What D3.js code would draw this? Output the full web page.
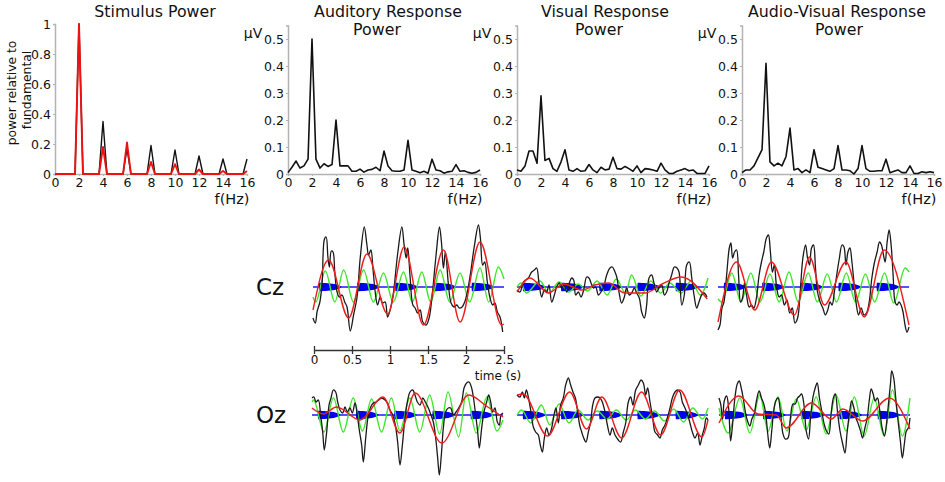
<!DOCTYPE html>
<html><head><meta charset="utf-8">
<script src="https://cdn.jsdelivr.net/npm/d3@7"></script>
<style>
html,body{margin:0;padding:0;background:#fff;}
svg{display:block;font-family:"DejaVu Sans",Verdana,sans-serif;}
</style></head>
<body>
<svg id="c" width="945" height="482"></svg>
<script>
// ---------- DATA ----------
const freqs = [0,0.33,0.67,1,1.33,1.67,2,2.33,2.67,3,3.33,3.67,4,4.33,4.67,5,5.33,5.67,6,6.33,6.67,7,7.33,7.67,8,8.33,8.67,9,9.33,9.67,10,10.33,10.67,11,11.33,11.67,12,12.33,12.67,13,13.33,13.67,14,14.33,14.67,15,15.33,15.67,16];
const stimBlack = [0,0,0,0,0,0,1,0,0,0,0,0,0.35,0,0,0,0,0,0.17,0,0,0,0,0,0.19,0,0,0,0,0,0.16,0,0,0,0,0,0.12,0,0,0,0,0,0.10,0,0,0,0,0,0.10];
const stimRed   = [0,0,0,0,0,0,1,0,0,0,0,0,0.18,0,0,0,0,0,0.21,0,0,0,0,0,0.08,0,0,0,0,0,0.065,0,0,0,0,0,0.03,0,0,0,0,0,0.02,0,0,0,0,0,0.02];
const audPower = [0.005,0.025,0.048,0.022,0.03,0.055,0.5,0.055,0.022,0.038,0.028,0.035,0.2,0.03,0.03,0.03,0.01,0.01,0.018,0.007,0.015,0.017,0.025,0.012,0.085,0.03,0.012,0.01,0.01,0.015,0.125,0.015,0.01,0.005,0.01,0.003,0.055,0.015,0.012,0.003,0.008,0.01,0.035,0.01,0.012,0.006,0.003,0.006,0.015];
const visPower = [0.015,0.01,0.03,0.085,0.085,0.04,0.29,0.05,0.058,0.02,0.01,0.045,0.09,0.015,0.01,0.02,0.01,0.012,0.035,0.015,0.005,0.025,0.015,0.018,0.062,0.02,0.018,0.028,0.02,0.01,0.03,0.005,0.02,0.018,0.015,0.01,0.04,0.015,0.002,0.002,0.01,0.015,0.02,0.012,0.015,0.002,0.002,0.002,0.03];
const avPower  = [0.005,0.015,0.015,0.03,0.06,0.09,0.41,0.045,0.03,0.04,0.03,0.065,0.17,0.015,0.02,0.005,0.015,0.005,0.09,0.025,0.02,0.015,0.01,0.02,0.105,0.015,0.015,0.012,0.0,0.02,0.105,0.02,0.01,0.01,0.012,0.012,0.055,0.005,0.01,0.015,0.005,0.005,0.03,0.002,0.002,0.008,0.005,0.008,0.005];
const freqTicks = [0,2,4,6,8,10,12,14,16];
const stimTicks = [0,0.2,0.4,0.6,0.8,1];
const respTicks = [0,0.1,0.2,0.3,0.4,0.5];
const timeTicks = [0,0.5,1,1.5,2,2.5];

// time series: [time (s), amplitude]
const czAudBlack = [[0,-31],[0.03,-36],[0.055,-24],[0.09,-15],[0.12,5],[0.15,48],[0.172,50],[0.195,30],[0.215,20],[0.24,36],[0.262,35],[0.285,15],[0.315,-5],[0.345,-10],[0.38,-8],[0.415,-15],[0.445,-20],[0.488,-44],[0.531,-28],[0.575,-11],[0.618,29],[0.671,60],[0.706,42],[0.727,32],[0.758,37],[0.784,19],[0.814,-5],[0.845,-18],[0.88,-10],[0.91,-16],[0.945,-15],[0.976,-30],[1.01,-23],[1.054,-5],[1.106,32],[1.163,60],[1.193,42],[1.22,29],[1.241,39],[1.272,9],[1.307,-18],[1.337,-21],[1.368,-26],[1.402,-23],[1.437,-35],[1.481,-38],[1.52,-31],[1.564,-5],[1.611,32],[1.655,60],[1.681,45],[1.707,19],[1.733,35],[1.773,2],[1.807,-16],[1.847,-20],[1.882,-18],[1.916,-21],[1.951,-20],[1.986,-15],[2.02,-5],[2.064,15],[2.108,39],[2.165,62],[2.191,49],[2.221,22],[2.247,25],[2.282,5],[2.317,-11],[2.352,-18],[2.382,-16],[2.413,-25],[2.448,-30],[2.483,-45]];
const czAudRed = [[0,-23],[0.205,27],[0.466,-31],[0.706,33],[0.976,-27],[1.193,40],[1.446,-38],[1.707,37],[1.925,-35],[2.186,45],[2.47,-38],[2.5,-37]];
const czAudGreen = [[0,-10],[0.036,-15],[0.161,16],[0.286,-15],[0.401,17],[0.53,-15],[0.662,17],[0.79,-15],[0.923,14],[1.05,-15],[1.185,15],[1.30,-15],[1.424,15],[1.54,-15],[1.664,17],[1.79,-15],[1.925,14],[2.05,-15],[2.186,19],[2.30,-15],[2.426,20],[2.5,8]];

const czVisBlack = [[0,-3],[0.04,-5],[0.083,5],[0.148,9],[0.192,15],[0.227,17],[0.257,19],[0.288,4],[0.323,-10],[0.358,-3],[0.388,-5],[0.419,2],[0.454,-15],[0.489,-8],[0.519,0],[0.554,4],[0.585,-1],[0.615,2],[0.65,-5],[0.685,4],[0.716,9],[0.742,7],[0.768,-8],[0.803,-5],[0.838,-10],[0.873,-3],[0.912,10],[0.942,9],[0.969,4],[0.999,-1],[1.03,0],[1.065,-8],[1.1,-5],[1.134,0],[1.174,12],[1.217,19],[1.248,20],[1.283,15],[1.309,9],[1.335,-5],[1.37,-16],[1.405,-10],[1.435,-1],[1.47,-8],[1.501,-6],[1.536,-1],[1.566,-6],[1.601,-11],[1.632,-25],[1.667,-31],[1.697,-18],[1.728,9],[1.763,12],[1.793,4],[1.828,-5],[1.859,-1],[1.894,2],[1.929,-8],[1.959,-5],[1.99,4],[2.024,12],[2.059,20],[2.094,19],[2.121,15],[2.156,-18],[2.19,-8],[2.221,22],[2.256,25],[2.286,10],[2.317,-8],[2.352,-21],[2.382,-15],[2.417,-8],[2.448,-6],[2.487,-10]];
const czVisRed = [[0,-5],[0.17,9],[0.41,-6],[0.61,3],[0.85,-3],[1.02,2],[1.2,4],[1.41,-6],[1.68,-6],[1.9,3],[2.15,10],[2.49,-12]];
const czVisGreen = [[0,0],[0.05,4],[0.12,-6],[0.3,6],[0.42,-6],[0.55,5],[0.68,-5],[0.8,3],[0.92,-4],[1.05,6],[1.18,-8],[1.3,8],[1.42,-6],[1.5,12],[1.62,-9],[1.75,6],[1.88,-6],[2.0,4],[2.15,-6],[2.28,6],[2.4,-8],[2.5,9]];

const czAvBlack = [[0,-43],[0.026,-38],[0.052,-21],[0.078,-15],[0.113,12],[0.148,39],[0.169,44],[0.191,29],[0.217,35],[0.243,37],[0.269,12],[0.295,-15],[0.321,-11],[0.347,4],[0.373,-8],[0.408,-20],[0.438,-18],[0.469,-21],[0.503,-11],[0.538,12],[0.569,25],[0.599,35],[0.634,49],[0.66,52],[0.686,35],[0.712,15],[0.738,22],[0.764,2],[0.799,-10],[0.833,-8],[0.868,-18],[0.903,-13],[0.938,-26],[0.972,-21],[1.007,-36],[1.042,-31],[1.076,-5],[1.111,29],[1.146,42],[1.172,29],[1.198,22],[1.224,39],[1.25,42],[1.276,19],[1.302,-5],[1.337,-15],[1.372,-21],[1.406,-28],[1.437,-23],[1.467,-15],[1.493,-18],[1.523,-5],[1.554,12],[1.589,29],[1.623,42],[1.649,40],[1.675,22],[1.701,35],[1.727,39],[1.753,25],[1.779,5],[1.806,-15],[1.84,-28],[1.875,-21],[1.91,-28],[1.944,-26],[1.979,-15],[2.014,9],[2.049,25],[2.083,35],[2.114,45],[2.14,42],[2.166,32],[2.188,25],[2.214,45],[2.24,57],[2.266,42],[2.292,12],[2.318,-15],[2.344,-18],[2.37,-15],[2.396,-18],[2.422,-25],[2.448,-38],[2.474,-45],[2.5,-40]];
const czAvRed = [[0,-35],[0.243,25],[0.482,-23],[0.699,25],[1.0,-28],[1.198,30],[1.393,-18],[1.675,25],[1.914,-30],[2.174,37],[2.5,-38]];
const czAvGreen = [[0,-12],[0.05,-15],[0.18,14],[0.30,-15],[0.43,14],[0.55,-15],[0.68,13],[0.80,-15],[0.93,15],[1.05,-15],[1.18,14],[1.30,-15],[1.43,13],[1.55,-15],[1.68,14],[1.80,-15],[1.93,13],[2.05,-15],[2.18,14],[2.30,-16],[2.45,19],[2.5,15]];

const ozAudBlack = [[0,17],[0.026,18],[0.052,13],[0.083,15],[0.113,0],[0.14,-17],[0.161,-35],[0.192,-17],[0.223,10],[0.249,17],[0.279,25],[0.31,23],[0.336,13],[0.366,5],[0.401,2],[0.432,8],[0.462,3],[0.497,7],[0.528,2],[0.563,12],[0.593,0],[0.619,-15],[0.65,-30],[0.672,-47],[0.703,-23],[0.737,0],[0.768,8],[0.803,12],[0.838,13],[0.873,15],[0.912,17],[0.956,15],[0.986,12],[1.021,5],[1.056,0],[1.091,-10],[1.121,-27],[1.152,-50],[1.183,-30],[1.217,-3],[1.248,13],[1.283,23],[1.318,25],[1.348,20],[1.379,13],[1.414,10],[1.449,17],[1.483,13],[1.523,7],[1.557,0],[1.588,-7],[1.619,-23],[1.645,-43],[1.667,-60],[1.693,-40],[1.719,-13],[1.749,3],[1.784,7],[1.815,7],[1.85,0],[1.885,3],[1.92,7],[1.959,13],[1.99,27],[2.024,32],[2.055,33],[2.086,28],[2.112,18],[2.142,0],[2.169,-17],[2.19,-33],[2.221,-13],[2.251,3],[2.286,13],[2.312,20],[2.339,13],[2.365,3],[2.395,7],[2.426,-7],[2.452,-10],[2.474,0],[2.5,2]];
const ozAudRed = [[0,7],[0.15,1],[0.32,8],[0.63,-5],[0.93,18],[1.15,-18],[1.35,22],[1.7,-28],[2.05,20],[2.3,8],[2.5,-2]];
const ozAudGreen = [[0,13],[0.02,15],[0.157,-17],[0.28,17],[0.41,-17],[0.54,17],[0.66,-16],[0.78,16],[0.91,-17],[1.04,17],[1.15,-16],[1.28,17],[1.41,-17],[1.54,20],[1.67,-19],[1.78,23],[1.92,-22],[2.02,22],[2.15,-18],[2.29,18],[2.42,-16],[2.5,-5]];

const ozVisBlack = [[0,20],[0.039,18],[0.07,23],[0.096,17],[0.122,25],[0.148,18],[0.183,3],[0.214,-12],[0.244,-17],[0.279,-20],[0.305,-30],[0.332,-37],[0.358,-23],[0.388,-13],[0.419,-20],[0.454,-13],[0.484,0],[0.51,7],[0.541,-8],[0.571,10],[0.606,17],[0.637,30],[0.672,37],[0.702,30],[0.733,23],[0.764,17],[0.794,3],[0.82,-10],[0.847,-17],[0.873,-23],[0.903,-27],[0.934,-17],[0.964,-7],[0.991,10],[1.021,17],[1.056,18],[1.087,17],[1.117,13],[1.152,3],[1.183,-10],[1.217,-20],[1.248,-13],[1.283,-20],[1.326,-25],[1.357,-27],[1.392,-17],[1.423,-8],[1.457,13],[1.488,18],[1.518,10],[1.553,25],[1.588,30],[1.623,35],[1.654,32],[1.684,20],[1.71,27],[1.741,13],[1.776,-3],[1.806,-17],[1.841,-20],[1.872,-23],[1.902,-15],[1.937,-10],[1.968,-3],[2.003,7],[2.033,17],[2.068,23],[2.103,25],[2.134,23],[2.164,13],[2.199,7],[2.234,0],[2.264,-8],[2.295,-17],[2.33,-23],[2.365,-18],[2.395,-30],[2.426,-20],[2.452,-13],[2.478,-3],[2.5,-5]];
const ozVisRed = [[0,20],[0.08,21],[0.4,-21],[0.69,23],[0.91,-14],[1.11,18],[1.37,-23],[1.63,23],[1.88,-20],[2.13,25],[2.42,-22],[2.5,-5]];
const ozVisGreen = [[0,0],[0.06,5],[0.18,-8],[0.32,10],[0.43,-10],[0.55,11],[0.68,-8],[0.8,5],[0.93,-5],[1.05,4],[1.18,-4],[1.3,5],[1.43,-5],[1.55,5],[1.68,-4],[1.8,4],[1.93,-6],[2.05,6],[2.18,-7],[2.3,7],[2.43,-4],[2.5,7]];

const ozAvBlack = [[0,17],[0.022,11],[0.048,-4],[0.069,14],[0.1,19],[0.126,7],[0.152,-26],[0.178,-9],[0.208,17],[0.239,31],[0.265,34],[0.291,27],[0.317,17],[0.343,4],[0.373,-6],[0.404,-11],[0.43,-4],[0.460,1],[0.49,14],[0.525,24],[0.556,17],[0.586,11],[0.612,1],[0.638,-19],[0.664,-33],[0.69,-16],[0.716,4],[0.742,14],[0.773,17],[0.803,4],[0.838,-19],[0.868,-24],[0.903,-23],[0.933,-4],[0.968,11],[0.998,11],[1.028,17],[1.055,19],[1.081,21],[1.111,11],[1.142,-16],[1.172,-24],[1.198,-3],[1.228,17],[1.259,27],[1.285,32],[1.315,17],[1.345,4],[1.376,-9],[1.406,-16],[1.437,-19],[1.467,1],[1.497,17],[1.523,21],[1.554,1],[1.584,-16],[1.619,-29],[1.649,-38],[1.675,-19],[1.706,1],[1.736,14],[1.766,7],[1.793,-3],[1.823,-9],[1.853,-16],[1.879,-23],[1.91,-13],[1.94,-3],[1.966,14],[1.992,26],[2.018,21],[2.044,14],[2.074,17],[2.105,4],[2.135,-13],[2.166,-21],[2.192,-9],[2.218,11],[2.244,31],[2.261,44],[2.287,37],[2.313,17],[2.344,-6],[2.374,-26],[2.4,-43],[2.426,-29],[2.452,-16],[2.478,-13],[2.5,-3]];
const ozAvRed = [[0,-8],[0.26,19],[0.51,1],[0.75,0],[0.88,-13],[1.21,12],[1.47,-4],[1.62,6],[1.88,-6],[2.23,17],[2.5,-14]];
const ozAvGreen = [[0,7],[0.12,-18],[0.273,17],[0.404,-18],[0.534,20],[0.642,-16],[0.772,18],[0.889,-16],[1.011,16],[1.141,-15],[1.272,18],[1.402,-19],[1.532,20],[1.662,-16],[1.771,18],[1.901,-21],[2.031,17],[2.161,-21],[2.27,25],[2.4,-21],[2.5,17]];

// audio stimulus bursts (blue)
const burstOnsets = [0.075,0.575,1.075,1.575,2.075];
const burstTimes = [0,0.004,0.03,0.06,0.09,0.12,0.15,0.18,0.21,0.24,0.27,0.3];
const burstEnv   = [0,4.2,4.2,4.1,4.0,3.8,3.6,3.3,2.9,2.3,1.4,0];

// ---------- DRAW ----------
const svg = d3.select("#c");
const FONT = "'DejaVu Sans',Verdana,sans-serif";
const AX = "#b3b3b3";

// top spectral panels (title centres and "Power" centres are layout positions)
const specPanels = [
  {x0:55, title:["Stimulus Power"], tc:[155], ymax:1, ticks:stimTicks, series:[{d:stimBlack,c:"#111",w:1.4},{d:stimRed,c:"#ee1111",w:1.9}], uv:false},
  {x0:288, title:["Auditory Response","Power"], tc:[388,377], ymax:0.55, ticks:respTicks, series:[{d:audPower,c:"#111",w:1.6}], uv:true},
  {x0:517, title:["Visual Response","Power"], tc:[605,599], ymax:0.55, ticks:respTicks, series:[{d:visPower,c:"#111",w:1.6}], uv:true},
  {x0:742, title:["Audio-Visual Response","Power"], tc:[837,839], ymax:0.55, ticks:respTicks, series:[{d:avPower,c:"#111",w:1.6}], uv:true}
];
specPanels.forEach((p,i)=>{
  const W = 192, yb = 174;
  const x = d3.scaleLinear().domain([0,16]).range([p.x0, p.x0+W]);
  const yTop = p.ymax===1 ? 24 : 174 - 0.55*270;
  const y = d3.scaleLinear().domain([0,p.ymax]).range([yb, yTop]);
  const g = svg.append("g");
  const xa = g.append("g").attr("transform",`translate(0,${yb})`)
    .call(d3.axisBottom(x).tickValues(freqTicks).tickSize(2).tickPadding(2).tickFormat(d3.format("d")));
  const ya = g.append("g").attr("transform",`translate(${p.x0},0)`)
    .call(d3.axisLeft(y).tickValues(p.ticks).tickSize(2).tickPadding(2).tickFormat(d=>d3.format("~g")(d)));
  [xa,ya].forEach(a=>{
    a.selectAll("path").attr("stroke",AX).attr("stroke-width",1.5);
    a.selectAll("line").attr("stroke",AX);
    a.selectAll("text").attr("font-size",12.5).attr("font-family",FONT).attr("fill","#111");
  });
  const line = d3.line().x((d,k)=>x(freqs[k])).y(d=>y(d));
  p.series.forEach(s=>{
    g.append("path").datum(s.d).attr("d",line).attr("fill","none")
      .attr("stroke",s.c).attr("stroke-width",s.w).attr("stroke-linejoin","round");
  });
  p.title.forEach((t,k)=>{
    g.append("text").attr("x",p.tc[k]).attr("y",17+k*18).attr("text-anchor","middle")
      .attr("font-size",15.8).attr("font-family",FONT).attr("fill","#111").text(t);
  });
  g.append("text").attr("x",p.x0+W-15).attr("y",204).attr("text-anchor","middle")
    .attr("font-size",14.5).attr("font-family",FONT).attr("fill","#111").text("f(Hz)");
  if(p.uv){
    g.append("text").attr("x",p.x0-35).attr("y",38).attr("text-anchor","middle")
      .attr("font-size",14).attr("font-family",FONT).attr("fill","#111").text("μV");
  }
});
// y label of stimulus panel
svg.append("text").attr("transform","translate(16,93) rotate(-90)").attr("text-anchor","middle")
  .attr("font-size",12.3).attr("font-family",FONT).attr("fill","#111").text("power relative to");
svg.append("text").attr("transform","translate(31,90) rotate(-90)").attr("text-anchor","middle")
  .attr("font-size",12.3).attr("font-family",FONT).attr("fill","#111").text("fundamental");

// time-domain panels
const rows = [
  {label:"Cz", cy:287, panels:[
    {x0:313, black:czAudBlack, red:czAudRed, green:czAudGreen},
    {x0:517, black:czVisBlack, red:czVisRed, green:czVisGreen},
    {x0:718, black:czAvBlack, red:czAvRed, green:czAvGreen}]},
  {label:"Oz", cy:415, panels:[
    {x0:312, black:ozAudBlack, red:ozAudRed, green:ozAudGreen},
    {x0:517, black:ozVisBlack, red:ozVisRed, green:ozVisGreen},
    {x0:719, black:ozAvBlack, red:ozAvRed, green:ozAvGreen}]}
];
rows.forEach(r=>{
  svg.append("text").attr("x",256).attr("y",r.cy+8).attr("font-size",23).attr("font-family",FONT)
    .attr("fill","#111").text(r.label);
  r.panels.forEach(p=>{
    const x = d3.scaleLinear().domain([0,2.5]).range([p.x0, p.x0+191]);
    const y = d3.scaleLinear().domain([-70,70]).range([r.cy+70, r.cy-70]);
    const g = svg.append("g");
    g.append("line").attr("x1",x(0)).attr("x2",x(2.5)).attr("y1",y(0)).attr("y2",y(0))
      .attr("stroke","#1a1aff").attr("stroke-width",1.6);
    const area = d3.area().x((d,k)=>x(burstTimes[k]+d.on)).y0(d=>y(-d.v)).y1(d=>y(d.v));
    burstOnsets.forEach(on=>{
      g.append("path").datum(burstEnv.map(v=>({v,on}))).attr("d",area).attr("fill","#0000ee");
    });
    const smooth = d3.line().x(d=>x(d[0])).y(d=>y(d[1])).curve(d3.curveMonotoneX);
    const rough = d3.line().x(d=>x(d[0])).y(d=>y(d[1])).curve(d3.curveCatmullRom.alpha(0.5));
    g.append("path").datum(p.green).attr("d",smooth).attr("fill","none").attr("stroke","#3ee62a").attr("stroke-width",1.4);
    g.append("path").datum(p.black).attr("d",rough).attr("fill","none").attr("stroke","#1a1a1a").attr("stroke-width",1.3);
    g.append("path").datum(p.red).attr("d",smooth).attr("fill","none").attr("stroke","#ee1c1c").attr("stroke-width",1.4);
  });
});

// time scale bar
const tx = d3.scaleLinear().domain([0,2.5]).range([314,504]);
const ta = svg.append("g").attr("transform","translate(0,350)")
  .call(d3.axisBottom(tx).tickValues(timeTicks).tickSize(0).tickPadding(5).tickFormat(d3.format("~g")));
ta.select("path").attr("stroke","#333").attr("stroke-width",1.3);
ta.selectAll("text").attr("font-size",12).attr("font-family",FONT).attr("fill","#111");
ta.selectAll(".tick").append("line").attr("y1",-4).attr("y2",4).attr("stroke","#333").attr("stroke-width",1.3);
svg.append("text").attr("x",498).attr("y",380).attr("text-anchor","middle").attr("font-size",12)
  .attr("font-family",FONT).attr("fill","#111").text("time (s)");
</script>
</body></html>
